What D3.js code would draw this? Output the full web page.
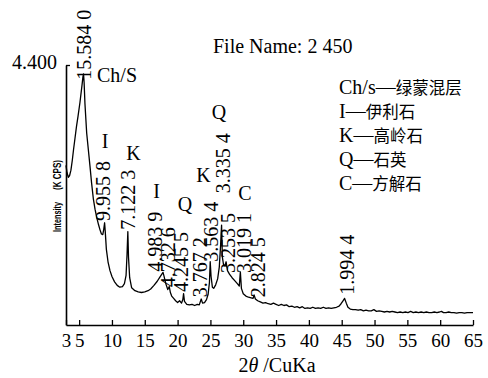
<!DOCTYPE html>
<html>
<head>
<meta charset="utf-8">
<script src="https://cdn.jsdelivr.net/npm/d3@7"></script>
<style>
  body { margin: 0; background: #fff; }
  svg { display: block; }
</style>
</head>
<body>
<svg id="chart" width="488" height="378"></svg>
<script>
// XRD pattern, sample 2 450 (2θ in degrees, intensity in K CPS)
const twoTheta = [
  3.0, 3.15, 3.35, 3.55, 3.75, 3.95, 4.15, 4.37, 4.6, 4.83, 5.13, 5.44, 5.58, 5.67, 5.76, 5.89,
  6.15, 6.4, 6.66, 6.9, 7.16, 7.42, 7.68, 7.95, 8.18, 8.4, 8.6, 8.75, 8.88, 8.98, 9.15, 9.4,
  9.7, 10.0, 10.4, 10.8, 11.2, 11.6, 11.9, 12.15, 12.3, 12.42, 12.52, 12.7, 13.0, 13.5, 14.0, 14.5,
  15.0, 15.5, 15.9, 16.4, 16.9, 17.3, 17.6, 17.78, 17.95, 18.2, 18.5, 18.73, 18.9, 19.1, 19.4, 19.7,
  20.0, 20.3, 20.6, 20.8, 20.91, 21.05, 21.4, 21.8, 22.2, 22.6, 23.0, 23.3, 23.6, 23.8, 24.1, 24.4,
  24.65, 24.85, 24.97, 25.1, 25.3, 25.5, 25.8, 26.1, 26.35, 26.55, 26.7, 26.82, 27.0, 27.2, 27.39, 27.6,
  27.9, 28.3, 28.7, 29.1, 29.4, 29.56, 29.72, 30.0, 30.4, 30.8, 31.2, 31.5, 31.65, 31.85, 32.2, 32.6,
  33.0, 33.4, 33.8, 34.2, 34.6, 35.0, 35.4, 35.8, 36.2, 36.6, 37.0, 37.4, 37.8, 38.2, 38.6, 39.0,
  39.4, 39.8, 40.2, 40.6, 41.0, 41.4, 41.8, 42.2, 42.6, 43.0, 43.4, 43.8, 44.2, 44.6, 44.9, 45.2,
  45.44, 45.7, 45.95, 46.3, 46.7, 47.1, 47.5, 47.9, 48.3, 48.7, 49.1, 49.5, 49.9, 50.3, 50.7, 51.1,
  51.5, 51.9, 52.3, 52.7, 53.1, 53.5, 53.9, 54.3, 54.7, 55.1, 55.5, 55.9, 56.3, 56.7, 57.1, 57.5,
  57.9, 58.3, 58.7, 59.1, 59.5, 59.9, 60.2, 60.5, 60.9, 61.3, 61.7, 62.1, 62.5, 62.9, 63.3, 63.7,
  64.1, 64.5, 65.0
];
const intensity = [
  2.70, 2.58, 2.50, 2.53, 2.62, 2.78, 2.97, 3.16, 3.36, 3.53, 3.77, 4.06, 4.20, 4.25, 4.10, 3.74,
  3.25, 2.97, 2.68, 2.40, 2.14, 1.96, 1.82, 1.70, 1.61, 1.54, 1.53, 1.62, 1.73, 1.58, 1.28, 1.07,
  0.92, 0.82, 0.73, 0.67, 0.64, 0.65, 0.70, 0.84, 1.20, 1.58, 1.15, 0.80, 0.63, 0.58, 0.56, 0.55,
  0.56, 0.58, 0.61, 0.67, 0.74, 0.81, 0.86, 0.89, 0.82, 0.70, 0.60, 0.65, 0.55, 0.49, 0.45, 0.41,
  0.38, 0.41, 0.37, 0.43, 0.53, 0.40, 0.35, 0.34, 0.35, 0.33, 0.35, 0.34, 0.44, 0.37, 0.38, 0.43,
  0.52, 0.72, 1.07, 0.82, 0.64, 0.62, 0.68, 0.78, 0.98, 1.35, 1.69, 1.15, 1.02, 1.00, 1.07, 0.92,
  0.86, 0.80, 0.75, 0.70, 0.66, 0.90, 0.62, 0.53, 0.49, 0.47, 0.46, 0.45, 0.51, 0.44, 0.41, 0.39,
  0.37, 0.38, 0.36, 0.35, 0.37, 0.35, 0.33, 0.35, 0.33, 0.34, 0.31, 0.32, 0.30, 0.31, 0.29, 0.31,
  0.28, 0.29, 0.28, 0.30, 0.28, 0.29, 0.28, 0.30, 0.28, 0.29, 0.28, 0.29, 0.30, 0.32, 0.36, 0.41,
  0.45, 0.37, 0.30, 0.27, 0.26, 0.26, 0.25, 0.26, 0.24, 0.25, 0.24, 0.24, 0.26, 0.23, 0.24, 0.23,
  0.22, 0.23, 0.22, 0.23, 0.22, 0.21, 0.22, 0.21, 0.22, 0.21, 0.23, 0.21, 0.22, 0.21, 0.22, 0.21,
  0.22, 0.21, 0.21, 0.22, 0.21, 0.22, 0.23, 0.21, 0.21, 0.22, 0.21, 0.21, 0.20, 0.21, 0.21, 0.20,
  0.21, 0.21, 0.21
];

// d-spacing labels (vertical), anchored at [2θ, intensity] of their lower end
const dLabels = ["15.584 0", "9.955 8", "7.122 3", "4.983 9", "4.732 6", "4.245 5", "3.767 2",
                 "3.563 4", "3.335 4", "3.253 5", "3.019 1", "2.824 5", "1.994 4"];
const dLabelTheta = [5.74, 8.71, 12.52, 16.63, 18.54, 20.59, 23.41, 25.09, 26.91, 27.75, 30.04, 32.32, 45.88];
const dLabelLevel = [4.15, 1.76, 1.61, 0.90, 0.64, 0.56, 0.47, 1.07, 2.23, 0.88, 0.88, 0.47, 0.51];

// mineral letters over the peaks
const phaseLabels = ["Ch/S", "I", "K", "I", "Q", "K", "Q", "C"];
const phaseTheta = [7.72, 8.94, 13.28, 16.79, 21.13, 23.94, 26.31, 30.27];
const phaseLevel = [4.11, 3.00, 2.79, 2.15, 1.93, 2.42, 3.49, 2.12];

// legend
const legendKeys = ["Ch/s", "I", "K", "Q", "C"];
const legendNames = ["绿蒙混层", "伊利石", "高岭石", "石英", "方解石"];

const xTicks = [3, 5, 10, 15, 20, 25, 30, 35, 40, 45, 50, 55, 60, 65];
const yTicks = [4.4];

const serif = "'Liberation Serif', 'Times New Roman', serif";
const cjk = "'Noto Sans CJK SC', sans-serif";

const svg = d3.select("#chart");

// scales
const x = d3.scaleLinear().domain([3, 65]).range([66, 473]);
const y = d3.scaleLinear().domain([0, 4.4]).range([325, 65]);

// x axis, ticks pointing inward
const xAxis = svg.append("g")
    .attr("transform", `translate(0,${y(0)})`)
    .call(d3.axisBottom(x).tickValues(xTicks).tickSize(-5).tickSizeOuter(0).tickPadding(9));
xAxis.select(".domain").attr("stroke-width", 1.6);
xAxis.selectAll(".tick line").attr("stroke-width", 1.3);
xAxis.selectAll(".tick text")
    .style("font-family", serif)
    .style("font-size", "19px")
    .attr("fill", "#000");

// y axis with only the top value
const yAxis = svg.append("g")
    .attr("transform", `translate(${x(3)},0)`)
    .call(d3.axisLeft(y).tickValues(yTicks).tickFormat(d3.format(".3f")).tickSize(-4).tickSizeOuter(0).tickPadding(9));
yAxis.select(".domain").attr("stroke-width", 1.6);
yAxis.selectAll(".tick line").attr("stroke-width", 1.3);
yAxis.selectAll(".tick text")
    .attr("dy", "0.15em")
    .style("font-family", serif)
    .style("font-size", "20px")
    .attr("fill", "#000");

// the pattern
const line = d3.line()
    .x((d, i) => x(twoTheta[i]))
    .y(d => y(d));

svg.append("path")
    .datum(intensity)
    .attr("d", line)
    .attr("fill", "none")
    .attr("stroke", "#000")
    .attr("stroke-width", 1.3)
    .attr("stroke-linejoin", "round");

// d-spacing labels, rotated
svg.append("g")
    .selectAll("text")
    .data(dLabels)
    .join("text")
    .attr("transform", (d, i) => `translate(${x(dLabelTheta[i])},${y(dLabelLevel[i])}) rotate(-90)`)
    .attr("dy", "0.35em")
    .style("font-family", serif)
    .style("font-size", "20px")
    .text(d => d);

// phase letters
svg.append("g")
    .selectAll("text")
    .data(phaseLabels)
    .join("text")
    .attr("x", (d, i) => x(phaseTheta[i]))
    .attr("y", (d, i) => y(phaseLevel[i]))
    .attr("text-anchor", (d, i) => i === 0 ? "start" : "middle")
    .style("font-family", serif)
    .style("font-size", "20px")
    .text(d => d);

// file name
svg.append("text")
    .attr("x", 213)
    .attr("y", 53)
    .style("font-family", serif)
    .style("font-size", "20px")
    .text("File Name: 2 450");

// legend: key, long dash, chinese name
const legend = svg.append("g").attr("transform", "translate(339,94)");
legendKeys.forEach((k, i) => {
    const t = legend.append("text").attr("y", i * 24);
    t.append("tspan").style("font-family", serif).style("font-size", "20px").text(k);
    t.append("tspan").style("font-family", serif).style("font-size", "20px").text("—");
    t.append("tspan").style("font-family", cjk).style("font-size", "16.5px").text(legendNames[i]);
});

// y axis title (small condensed sans)
svg.append("text")
    .attr("transform", "translate(57,232) rotate(-90)")
    .attr("dy", "0.35em")
    .attr("textLength", 30)
    .attr("lengthAdjust", "spacingAndGlyphs")
    .style("font-family", "'Liberation Sans', Arial, sans-serif")
    .style("font-size", "10px")
    .style("font-weight", "bold")
    .text("Intensity");
svg.append("text")
    .attr("transform", "translate(57,190) rotate(-90)")
    .attr("dy", "0.35em")
    .attr("textLength", 30)
    .attr("lengthAdjust", "spacingAndGlyphs")
    .style("font-family", "'Liberation Sans', Arial, sans-serif")
    .style("font-size", "10px")
    .style("font-weight", "bold")
    .text("(K CPS)");

// x axis title
const xTitle = svg.append("text")
    .attr("x", 277)
    .attr("y", 372)
    .attr("text-anchor", "middle")
    .style("font-family", serif)
    .style("font-size", "20px");
xTitle.append("tspan").text("2");
xTitle.append("tspan").style("font-style", "italic").text("θ");
xTitle.append("tspan").text(" /CuKa");
</script>
</body>
</html>
